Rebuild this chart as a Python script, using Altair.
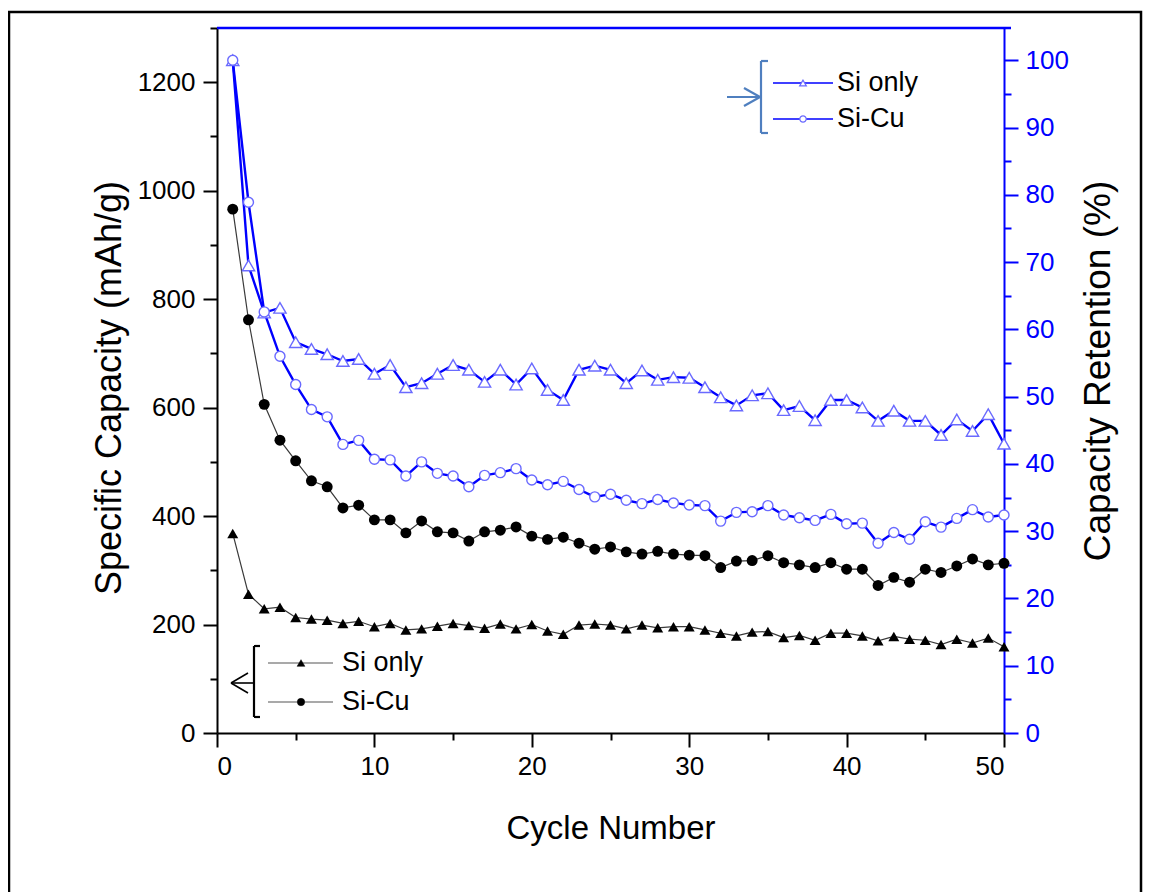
import altair as alt
import pandas as pd

# ---------------- data ----------------
cycles = list(range(1, 51))
cap_si_only = [368, 256, 229, 232, 213, 210, 208, 202, 206, 196,
               202, 190, 192, 197, 202, 198, 193, 201, 192, 200,
               188, 182, 199, 201, 199, 192, 199, 194, 196, 196,
               190, 184, 179, 186, 187, 176, 180, 171, 184, 184,
               179, 170, 178, 173, 171, 163, 173, 166, 175, 159]
cap_si_cu = [966, 762, 606, 540, 502, 465, 454, 415, 420, 393,
             393, 369, 391, 371, 369, 354, 371, 374, 380, 363,
             357, 361, 350, 339, 343, 334, 330, 335, 330, 328,
             327, 305, 317, 318, 327, 314, 310, 305, 314, 302,
             302, 272, 287, 278, 302, 296, 308, 321, 310, 313]
ret_si_only = [100, 69.5, 62.5, 63.2, 58.1, 57.1, 56.3, 55.3, 55.6, 53.4,
               54.7, 51.4, 52.0, 53.4, 54.7, 54.0, 52.2, 54.0, 51.8, 54.2,
               51.0, 49.5, 54.0, 54.6, 54.0, 52.0, 53.9, 52.5, 52.9, 52.8,
               51.4, 49.9, 48.7, 50.2, 50.5, 48.0, 48.6, 46.5, 49.5, 49.5,
               48.4, 46.4, 47.9, 46.4, 46.4, 44.3, 46.6, 44.9, 47.4, 43.0]
ret_si_cu = [100, 78.9, 62.6, 56.0, 51.8, 48.1, 47.0, 42.9, 43.5, 40.7,
             40.6, 38.2, 40.3, 38.6, 38.2, 36.6, 38.3, 38.7, 39.3, 37.6,
             36.9, 37.4, 36.2, 35.1, 35.5, 34.6, 34.1, 34.7, 34.2, 33.9,
             33.8, 31.5, 32.8, 32.9, 33.8, 32.4, 32.0, 31.6, 32.5, 31.1,
             31.2, 28.2, 29.8, 28.8, 31.4, 30.6, 31.9, 33.2, 32.1, 32.4]
series_names = ["Si only", "Si-Cu"]
x_ticks = list(range(0, 51, 5))
left_ticks = list(range(0, 1301, 100))
right_ticks = list(range(0, 101, 5))

# ---------------- style ----------------
W, H = 787, 705
FONT = "Liberation Sans"
BLUE = "#0000ff"
MARK_BLUE = "#6a6aff"
BRACKET_BLUE = "#4f7fbf"
BLACK_LINE = "#3a3a3a"


def cond_tick(step):
    return {"condition": {"test": f"datum.value % {step} === 0", "value": 14}, "value": 7}


cap_df = pd.DataFrame({"cycle": cycles * 2,
                       "series": [series_names[0]] * 50 + [series_names[1]] * 50,
                       "value": cap_si_only + cap_si_cu})
ret_df = pd.DataFrame({"cycle": cycles * 2,
                       "series": [series_names[0]] * 50 + [series_names[1]] * 50,
                       "value": ret_si_only + ret_si_cu})

x_enc = alt.X("cycle:Q",
              scale=alt.Scale(domain=[0, 50], nice=False, zero=False),
              axis=alt.Axis(values=x_ticks, format="d",
                            labelExpr="datum.value % 10 === 0 ? datum.label : ''",
                            tickSize=cond_tick(10), labelPadding=6,
                            title="Cycle Number", titleX=W / 2, titleY=95,
                            titleAlign="center", titleBaseline="middle",
                            titleFontSize=33))

y_left = alt.Y("value:Q",
               scale=alt.Scale(domain=[0, 1300], nice=False, zero=True),
               axis=alt.Axis(orient="left", values=left_ticks, format="d",
                             labelExpr="datum.value % 200 === 0 ? datum.label : ''",
                             tickSize=cond_tick(200), labelPadding=8,
                             title="Specific Capacity (mAh/g)", titleAngle=270,
                             titleX=-108, titleY=H / 2 + 7,
                             titleAlign="center", titleBaseline="middle",
                             titleFontSize=36))

y_right = alt.Y("value:Q",
                scale=alt.Scale(domain=[0, 104.8], nice=False, zero=True),
                axis=alt.Axis(orient="right", values=right_ticks, format="d",
                              labelExpr="datum.value % 10 === 0 ? datum.label : ''",
                              tickSize=cond_tick(10), labelPadding=7,
                              domainColor=BLUE, tickColor=BLUE, labelColor=BLUE,
                              title="Capacity Retention (%)", titleAngle=270,
                              titleX=94, titleY=H / 2 - 10,
                              titleAlign="center", titleBaseline="middle",
                              titleFontSize=37))

cap_si_df = cap_df[cap_df.series == series_names[0]]
cap_cu_df = cap_df[cap_df.series == series_names[1]]
ret_si_df = ret_df[ret_df.series == series_names[0]]
ret_cu_df = ret_df[ret_df.series == series_names[1]]

black_lines = alt.Chart(cap_df).mark_line(color=BLACK_LINE, strokeWidth=1.2).encode(
    x=x_enc, y=y_left, detail="series:N")
black_tri = alt.Chart(cap_si_df).mark_point(shape="triangle-up", filled=True, color="black",
                                            size=120, opacity=1).encode(x=x_enc, y=y_left)
black_circ = alt.Chart(cap_cu_df).mark_point(shape="circle", filled=True, color="black",
                                             size=120, opacity=1).encode(x=x_enc, y=y_left)
left = alt.layer(black_lines, black_tri, black_circ)

blue_lines = alt.Chart(ret_df).mark_line(color=BLUE, strokeWidth=2.4).encode(
    x=x_enc, y=y_right, detail="series:N")
blue_tri = alt.Chart(ret_si_df).mark_point(shape="triangle-up", filled=True, fill="white",
                                           stroke=MARK_BLUE, strokeWidth=1.4, size=150,
                                           opacity=1).encode(x=x_enc, y=y_right)
blue_circ = alt.Chart(ret_cu_df).mark_point(shape="circle", filled=True, fill="white",
                                            stroke=MARK_BLUE, strokeWidth=1.4, size=100,
                                            opacity=1).encode(x=x_enc, y=y_right)
right = alt.layer(blue_lines, blue_tri, blue_circ)

one = pd.DataFrame({"k": [0]})


def seg(x1, y1, x2, y2, color, w):
    return alt.Chart(one).mark_rule(color=color, strokeWidth=w).encode(
        x=alt.value(x1), y=alt.value(y1), x2=alt.value(x2), y2=alt.value(y2))


def marker(x, y, shape, size, fill, stroke, sw):
    return alt.Chart(one).mark_point(shape=shape, size=size, filled=True, fill=fill,
                                     stroke=stroke, strokeWidth=sw, opacity=1).encode(
        x=alt.value(x), y=alt.value(y))


def label(x, y, txt):
    return alt.Chart(one).mark_text(text=txt, align="left", baseline="middle",
                                    font=FONT, fontSize=27, color="black").encode(
        x=alt.value(x), y=alt.value(y))


# frame and top border
frame = alt.Chart(one).mark_rect(fillOpacity=0, stroke="black", strokeWidth=2.5).encode(
    x=alt.value(-208), x2=alt.value(924), y=alt.value(-16), y2=alt.value(880))
top_line = seg(0, 0, W + 7, 0, BLUE, 2.4)

# upper-right (retention) legend
up = [
    seg(544, 33, 544, 105, BRACKET_BLUE, 2.2),
    seg(544, 33, 551, 33, BRACKET_BLUE, 2.2),
    seg(544, 105, 551, 105, BRACKET_BLUE, 2.2),
    seg(510, 69, 544, 69, BRACKET_BLUE, 2.2),
    seg(543, 69, 527, 60, BRACKET_BLUE, 2.2),
    seg(543, 69, 527, 78, BRACKET_BLUE, 2.2),
    seg(556, 55, 616, 55, BLUE, 1.6),
    seg(556, 91, 616, 91, BLUE, 1.6),
    marker(586, 55, "triangle-up", 45, "white", MARK_BLUE, 1.2),
    marker(586, 91, "circle", 40, "white", MARK_BLUE, 1.2),
    label(620, 55, series_names[0]),
    label(620, 91, series_names[1]),
]

# lower-left (capacity) legend
lo = [
    seg(37, 618, 37, 689, "black", 2.2),
    seg(37, 618, 43, 618, "black", 2.2),
    seg(37, 689, 43, 689, "black", 2.2),
    seg(14, 655, 37, 655, "black", 1.6),
    seg(14, 655, 31, 645, "black", 1.6),
    seg(14, 655, 31, 665, "black", 1.6),
    seg(51, 635, 116, 635, "#555555", 1.2),
    seg(51, 674, 116, 674, "#555555", 1.2),
    marker(84, 635, "triangle-up", 60, "black", "black", 0.5),
    marker(84, 674, "circle", 55, "black", "black", 0.5),
    label(125, 635, series_names[0]),
    label(125, 674, series_names[1]),
]

chart = alt.layer(left, right, top_line, frame, *up, *lo).resolve_scale(
    y="independent"
).properties(
    width=W, height=H,
    padding={"left": 209, "top": 20, "right": 142, "bottom": 160},
    autosize=alt.AutoSizeParams(type="none"),
    background="white",
).configure_view(stroke=None).configure_axis(
    grid=False, domainWidth=2, tickWidth=2, domainColor="black", tickColor="black",
    labelFont=FONT, titleFont=FONT, labelFontSize=26, labelColor="black",
    titleColor="black", titleFontWeight="normal",
)

chart.save("out.html", embed_options={"renderer": "svg", "actions": False})
